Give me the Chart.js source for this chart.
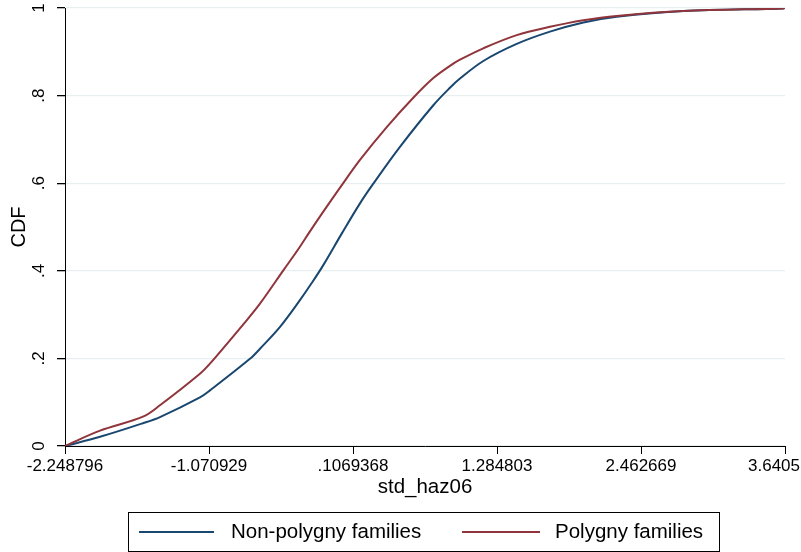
<!DOCTYPE html>
<html>
<head>
<meta charset="utf-8">
<script src="https://cdn.jsdelivr.net/npm/chart.js@4/dist/chart.umd.min.js"></script>
<style>
html,body{margin:0;padding:0;background:#fff;}
#wrap{width:801px;height:552px;position:relative;}
</style>
</head>
<body>
<div id="wrap"><canvas id="c" width="801" height="552"></canvas></div>
<script>
// ---- data ----
const xTickValues = [-2.248796, -1.070929, 0.1069368, 1.284803, 2.462669, 3.6405];
const xTickLabels = ["-2.248796", "-1.070929", ".1069368", "1.284803", "2.462669", "3.6405"];
const yTickValues = [0, 0.2, 0.4, 0.6, 0.8, 1];
const yTickLabels = ["0", ".2", ".4", ".6", ".8", "1"];

const seriesNames = ["Non-polygny families", "Polygny families"];

const nonPolyX = [-2.248796, -1.962, -1.611, -1.472, -1.145, -1.063, -0.736, -0.654, -0.490, -0.327, -0.231, -0.136, 0.017, 0.164, 0.273, 0.491, 0.764, 0.900, 0.982, 1.173, 1.446, 1.718, 1.991, 2.264, 2.809, 3.627, 3.6405];
const nonPolyY = [0, 0.021, 0.052, 0.066, 0.111, 0.127, 0.199, 0.222, 0.272, 0.333, 0.372, 0.413, 0.486, 0.554, 0.599, 0.683, 0.778, 0.818, 0.839, 0.879, 0.918, 0.946, 0.967, 0.980, 0.993, 0.999, 1.0];

const polyX = [-2.248796, -1.962, -1.611, -1.472, -1.145, -1.063, -0.763, -0.654, -0.463, -0.327, -0.245, -0.136, 0.014, 0.164, 0.383, 0.600, 0.764, 0.900, 0.982, 1.173, 1.446, 1.718, 1.991, 2.264, 2.809, 3.627, 3.6405];
const polyY = [0, 0.035, 0.067, 0.093, 0.165, 0.188, 0.287, 0.325, 0.401, 0.455, 0.490, 0.535, 0.595, 0.653, 0.728, 0.795, 0.840, 0.868, 0.882, 0.908, 0.938, 0.957, 0.972, 0.982, 0.993, 0.999, 1.0];

// ---- styling ----
const FONT = "'Liberation Sans', Arial, Helvetica, sans-serif";
const BLUE = '#1a476f';
const RED = '#90353b';
const GRID = '#e8eff1';

const toPts = (xs, ys) => xs.map((x, i) => ({x: x, y: ys[i]}));

const overlay = {
  id: 'overlay',
  afterDraw(chart) {
    const ctx = chart.ctx, xs = chart.scales.x, ys = chart.scales.y;
    ctx.save();
    ctx.fillStyle = '#000';
    ctx.font = '17px ' + FONT;
    ctx.textAlign = 'center';
    ctx.textBaseline = 'middle';
    // y tick labels, rotated
    yTickValues.forEach((v, i) => {
      const py = ys.getPixelForValue(v);
      ctx.save();
      ctx.translate(39, py);
      ctx.rotate(-Math.PI / 2);
      ctx.fillText(yTickLabels[i], 0, 0);
      ctx.restore();
    });
    // x tick labels
    xTickValues.forEach((v, i) => {
      let px = xs.getPixelForValue(v);
      const w = ctx.measureText(xTickLabels[i]).width;
      if (px + w / 2 > chart.width - 1) px = chart.width - 1 - w / 2;
      ctx.fillText(xTickLabels[i], px, 466);
    });
    // legend
    ctx.strokeStyle = '#000';
    ctx.lineWidth = 1;
    ctx.strokeRect(128.5, 512.5, 591, 39);
    ctx.font = '20.5px ' + FONT;
    ctx.textAlign = 'left';
    const ly = 532;
    const items = [
      {x0: 139, x1: 214, tx: 231},
      {x0: 462, x1: 540, tx: 555}
    ];
    chart.data.datasets.forEach((ds, i) => {
      const it = items[i];
      ctx.strokeStyle = ds.borderColor;
      ctx.lineWidth = 2;
      ctx.beginPath();
      ctx.moveTo(it.x0, ly);
      ctx.lineTo(it.x1, ly);
      ctx.stroke();
      ctx.fillStyle = '#000';
      ctx.fillText(ds.label, it.tx, ly);
    });
    ctx.restore();
  }
};

new Chart(document.getElementById('c'), {
  type: 'line',
  data: {
    datasets: [
      {label: seriesNames[0], data: toPts(nonPolyX, nonPolyY), borderColor: BLUE, borderWidth: 2, pointRadius: 0, tension: 0.35, fill: false, order: 1},
      {label: seriesNames[1], data: toPts(polyX, polyY), borderColor: RED, borderWidth: 2, pointRadius: 0, tension: 0.35, fill: false, order: 0}
    ]
  },
  options: {
    responsive: false,
    animation: false,
    devicePixelRatio: 1,
    layout: {padding: {left: 0, right: 16, top: 8, bottom: 46}},
    plugins: {legend: {display: false}, tooltip: {enabled: false}},
    scales: {
      x: {
        type: 'linear',
        min: xTickValues[0],
        max: xTickValues[xTickValues.length - 1],
        afterBuildTicks: s => { s.ticks = xTickValues.map(v => ({value: v})); },
        afterFit: s => { s.height = 60; },
        ticks: {display: false},
        grid: {display: true, drawOnChartArea: false, drawTicks: true, tickLength: 8, tickColor: '#000', color: '#000', lineWidth: 1},
        border: {display: true, color: '#000', width: 1},
        title: {display: true, text: 'std_haz06', color: '#000', font: {family: FONT, size: 20.5}, padding: {top: 0, bottom: 6.7}}
      },
      y: {
        type: 'linear',
        min: 0,
        max: 1,
        afterBuildTicks: s => { s.ticks = yTickValues.map(v => ({value: v})); },
        afterFit: s => { s.width = 65; },
        ticks: {display: false},
        grid: {display: true, drawOnChartArea: true, drawTicks: true, tickLength: 8, tickColor: '#000', color: GRID, lineWidth: 1.3},
        border: {display: true, color: '#000', width: 1},
        title: {display: true, text: 'CDF', color: '#000', font: {family: FONT, size: 20}, padding: {top: 7, bottom: 0}}
      }
    }
  },
  plugins: [overlay]
});
</script>
</body>
</html>
